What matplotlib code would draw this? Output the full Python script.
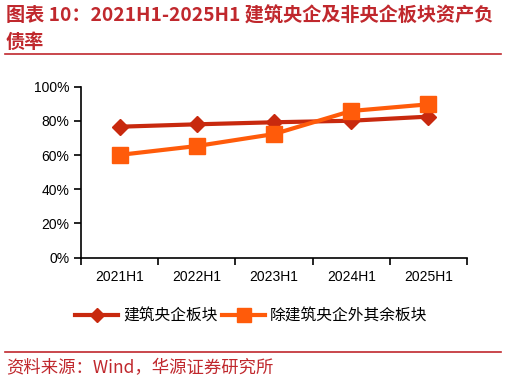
import matplotlib
matplotlib.use("Agg")
import matplotlib.pyplot as plt
from matplotlib.lines import Line2D
from matplotlib.ticker import PercentFormatter

plt.rcParams['font.family'] = ['Liberation Sans', 'Noto Sans CJK SC', 'DejaVu Sans']

# 数据
periods = ["2021H1", "2022H1", "2023H1", "2024H1", "2025H1"]
central = [0.766, 0.780, 0.792, 0.801, 0.825]
others = [0.601, 0.653, 0.723, 0.858, 0.897]

c_dark = "#C8290E"
c_orange = "#FF5B0A"
c_title = "#C0282D"

fig = plt.figure(figsize=(5.06, 3.85), dpi=100)
ax = fig.add_axes([0.160, 0.3307, 0.763, 0.4441])

x = list(range(len(periods)))
ax.plot(x, central, color=c_dark, lw=3, marker="D", ms=8, zorder=3)
ax.plot(x, others, color=c_orange, lw=3, marker="s", ms=11, zorder=4)

ax.set_xlim(-0.5, len(periods) - 0.5)
ax.set_ylim(0, 1.0)
ax.set_yticks([0, 0.2, 0.4, 0.6, 0.8, 1.0])
ax.yaxis.set_major_formatter(PercentFormatter(1.0, decimals=0))
ax.set_xticks(x)
ax.set_xticklabels(periods)
ax.set_xticks([i - 0.5 for i in range(len(periods) + 1)], minor=True)
ax.tick_params(axis="x", which="major", length=0, pad=9, labelsize=10)
ax.tick_params(axis="x", which="minor", length=5, width=1.2)
ax.tick_params(axis="y", length=5, width=1.2, labelsize=10)
for s in ["top", "right"]:
    ax.spines[s].set_visible(False)
for s in ["left", "bottom"]:
    ax.spines[s].set_linewidth(1.2)

handles = [
    Line2D([0], [0], color=c_dark, lw=3, marker="D", ms=7),
    Line2D([0], [0], color=c_orange, lw=3, marker="s", ms=10),
]
fig.legend(handles, ["建筑央企板块", "除建筑央企外其余板块"], loc="center",
           bbox_to_anchor=(0.497, 0.179), ncol=2, frameon=False,
           handlelength=2.75, handletextpad=0.3, columnspacing=0.3,
           prop={'family': ['Noto Sans CJK SC'], 'size': 11.3})

# 标题
fig.text(0.012, 0.958, "图表 10：2021H1-2025H1 建筑央企及非央企板块资产负",
         color=c_title, fontsize=13.8, fontweight="bold", va="center",
         family=['Noto Sans CJK SC', 'DejaVu Sans'])
fig.text(0.012, 0.891, "债率", color=c_title, fontsize=13.8, fontweight="bold",
         va="center", family=['Noto Sans CJK SC', 'DejaVu Sans'])
fig.add_artist(Line2D([0.01, 0.99], [0.860, 0.860], color=c_title, lw=1.2))

# 来源
fig.add_artist(Line2D([0.01, 0.99], [0.086, 0.086], color=c_title, lw=1.2))
fig.text(0.012, 0.045, "资料来源：Wind，华源证券研究所", color=c_title,
         fontsize=12.5, va="center", family=['Noto Sans CJK SC', 'DejaVu Sans'])

fig.savefig("out.png", dpi=100)
